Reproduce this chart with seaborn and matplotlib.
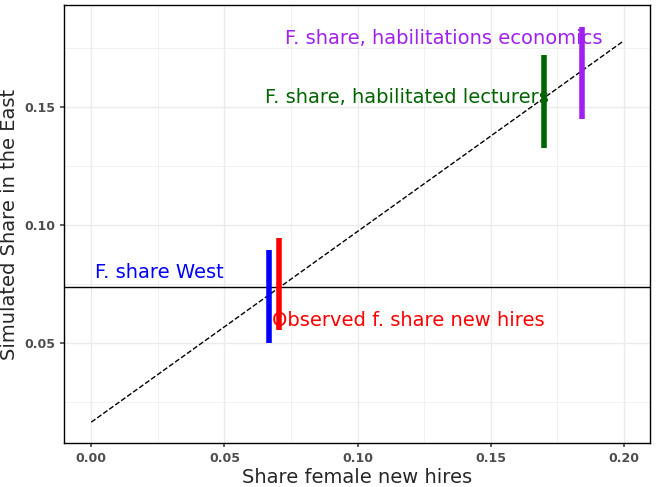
import matplotlib
matplotlib.use("Agg")
import matplotlib.pyplot as plt
import seaborn as sns
import pandas as pd

sns.set_theme(style="whitegrid")
plt.rcParams['font.family'] = ['DejaVu Sans']

seg_labels = ["F. share West", "Observed f. share new hires",
              "F. share, habilitated lecturers", "F. share, habilitations economics"]
seg_x = [0.0668, 0.0705, 0.170, 0.1843]
seg_lo = [0.050, 0.0555, 0.1326, 0.145]
seg_hi = [0.0894, 0.0945, 0.172, 0.184]
seg_colors = ["blue", "red", "darkgreen", "#A020F0"]
label_x = [0.0015, 0.068, 0.0653, 0.0728]
label_y = [0.0797, 0.0597, 0.154, 0.179]
diag_x = [0.0, 0.20]
diag_y = [0.0165, 0.178]
hline_y = 0.0737
xticks = [0.00, 0.05, 0.10, 0.15, 0.20]
yticks = [0.05, 0.10, 0.15]

fig, ax = plt.subplots(figsize=(6.57, 4.87), dpi=100)
fig.subplots_adjust(left=0.098, right=0.99, bottom=0.09, top=0.99)
sns.lineplot(x=diag_x, y=diag_y, ax=ax, color="black", linestyle="--", linewidth=1)
ax.axhline(hline_y, color="black", linewidth=1)
for x, lo, hi, c in zip(seg_x, seg_lo, seg_hi, seg_colors):
    ax.vlines(x, lo, hi, color=c, linewidth=4)
for t, x, y, c in zip(seg_labels, label_x, label_y, seg_colors):
    ax.text(x, y, t, color=c, fontsize=14, ha="left", va="center")
ax.set_xlim(-0.0101, 0.210)
ax.set_ylim(0.0076, 0.1932)
ax.set_xticks(xticks)
ax.set_yticks(yticks)
ax.set_xticklabels([f"{v:.2f}" for v in xticks])
ax.set_yticklabels([f"{v:.2f}" for v in yticks])
ax.set_xticks([0.025, 0.075, 0.125, 0.175], minor=True)
ax.set_yticks([0.025, 0.075, 0.125, 0.175], minor=True)
ax.grid(True, which="major", color="#EBEBEB", linewidth=1)
ax.grid(True, which="minor", color="#EBEBEB", linewidth=0.5)
for s in ax.spines.values():
    s.set_color("black"); s.set_linewidth(1)
ax.tick_params(axis="both", labelsize=9, colors="#4D4D4D", length=3, left=True, bottom=True)
for lab in ax.get_xticklabels() + ax.get_yticklabels():
    lab.set_fontweight("bold")
ax.set_xlabel("Share female new hires", fontsize=14, labelpad=2)
ax.set_ylabel("Simulated Share in the East", fontsize=14, labelpad=4)
fig.savefig("out.png", dpi=100)
